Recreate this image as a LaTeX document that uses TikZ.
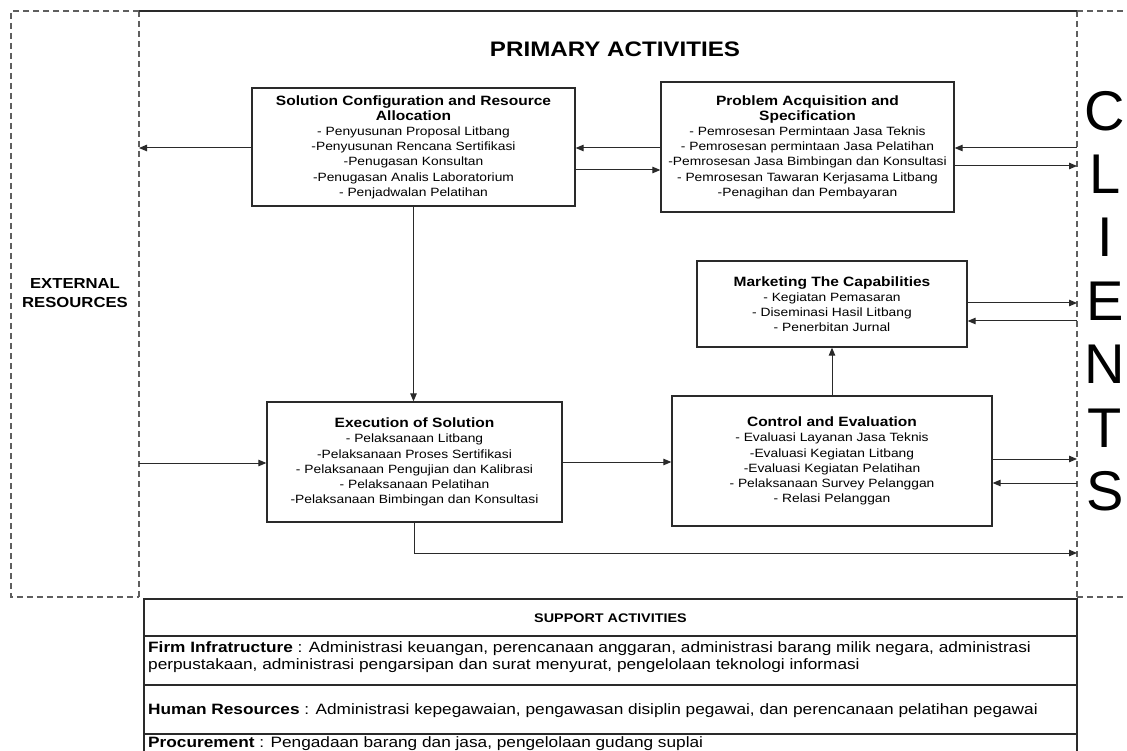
\documentclass[tikz,border=0pt]{standalone}
\usepackage{fontspec}
\setmainfont{Liberation Sans}[FakeStretch=1.15]
\newfontfamily\clfont{Liberation Sans}
\usetikzlibrary{arrows.meta}
\definecolor{ln}{HTML}{2A2A2A}
\definecolor{dshc}{HTML}{5E5E5E}
\newcommand\boxttl[1]{{\fontsize{13.5}{15}\selectfont\bfseries #1}}
\begin{document}
\begin{tikzpicture}[x=1pt,y=-1pt,
  box/.style={draw=ln,line width=1.3pt,rectangle,align=center,inner sep=0pt,font=\fontsize{12}{15.2}\selectfont},
  arr/.style={draw=ln,line width=1pt,-{Triangle[length=8pt,width=6.5pt]}},
  dshl/.style={draw=dshc,line width=1.2pt,dash pattern=on 6pt off 4pt},
  frame/.style={draw=ln,line width=1.1pt},
  clet/.style={font=\clfont\fontsize{56}{60}\selectfont,inner sep=0pt,anchor=base},
  sup/.style={anchor=base west,align=left,inner sep=0pt,font=\fontsize{15}{17}\selectfont}]
\useasboundingbox (0,0) rectangle (1127,751);
% frames
\draw[dshl] (139,11) -- (11,11) -- (11,597) -- (139,597);
\draw[dshl] (139,11) -- (139,597);
\draw[dshl] (1077,11) -- (1077,597);
\draw[dshl] (1077,11) -- (1127,11);
\draw[dshl] (1077,597) -- (1127,597);
\draw[frame] (139,11) -- (1077,11);
% labels
\node[font=\fontsize{21}{24}\selectfont\bfseries] (prim) at (615,49) {PRIMARY ACTIVITIES};
\node[align=center,font=\fontsize{14.5}{19}\selectfont\bfseries,inner sep=0pt] (ext) at (75,293) {EXTERNAL\\RESOURCES};
\node[clet] (cl1) at (1105,131) {C};
\node[clet] (cl2) at (1105,194) {L};
\node[clet] (cl3) at (1105,257) {I};
\node[clet] (cl4) at (1105,320) {E};
\node[clet] (cl5) at (1105,383) {N};
\node[clet] (cl6) at (1105,447) {T};
\node[clet] (cl7) at (1105,510) {S};
% boxes
\node[box,minimum width=323pt,minimum height=118pt] (sol) at (413.5,147) {\boxttl{Solution Configuration and Resource}\\\boxttl{Allocation}\\- Penyusunan Proposal Litbang\\-Penyusunan Rencana Sertifikasi\\-Penugasan Konsultan\\-Penugasan Analis Laboratorium\\- Penjadwalan Pelatihan};
\node[box,minimum width=293pt,minimum height=130pt] (prob) at (807.5,147) {\boxttl{Problem Acquisition and}\\\boxttl{Specification}\\- Pemrosesan Permintaan Jasa Teknis\\- Pemrosesan permintaan Jasa Pelatihan\\-Pemrosesan Jasa Bimbingan dan Konsultasi\\- Pemrosesan Tawaran Kerjasama Litbang\\-Penagihan dan Pembayaran};
\node[box,minimum width=270pt,minimum height=86pt] (mkt) at (832,304) {\boxttl{Marketing The Capabilities}\\- Kegiatan Pemasaran\\- Diseminasi Hasil Litbang\\- Penerbitan Jurnal};
\node[box,minimum width=295pt,minimum height=120pt] (exec) at (414.5,462) {\boxttl{Execution of Solution}\\- Pelaksanaan Litbang\\-Pelaksanaan Proses Sertifikasi\\- Pelaksanaan Pengujian dan Kalibrasi\\- Pelaksanaan Pelatihan\\-Pelaksanaan Bimbingan dan Konsultasi};
\node[box,minimum width=320pt,minimum height=130pt] (ctrl) at (832,461) {\boxttl{Control and Evaluation}\\- Evaluasi Layanan Jasa Teknis\\-Evaluasi Kegiatan Litbang\\-Evaluasi Kegiatan Pelatihan\\- Pelaksanaan Survey Pelanggan\\- Relasi Pelanggan};
% boundary coordinates
\coordinate (e148) at (139,148);
\coordinate (e463) at (139,463);
\coordinate (c148) at (1077,148);
\coordinate (c166) at (1077,166);
\coordinate (c303) at (1077,303);
\coordinate (c321) at (1077,321);
\coordinate (c459) at (1077,459);
\coordinate (c483) at (1077,483);
\coordinate (c553) at (1077,553);
% connectors
\draw[arr] (sol.west |- e148) -- (e148);
\draw[arr] (prob.west |- e148) -- (sol.east |- e148);
\draw[arr] (sol.east |- 0,170) -- (prob.west |- 0,170);
\draw[arr] (c148) -- (prob.east |- c148);
\draw[arr] (prob.east |- c166) -- (c166);
\draw[arr] (mkt.east |- c303) -- (c303);
\draw[arr] (c321) -- (mkt.east |- c321);
\draw[arr] (sol.south) -- (sol.south |- exec.north);
\draw[arr] (e463) -- (exec.west |- e463);
\draw[arr] (exec.east) -- (ctrl.west |- exec.east);
\draw[arr] (ctrl.north) -- (mkt.south);
\draw[arr] (ctrl.east |- c459) -- (c459);
\draw[arr] (c483) -- (ctrl.east |- c483);
\draw[arr] (exec.south) |- (c553);
% support activities
\draw[frame] (144,751) -- (144,599) -- (1077,599) -- (1077,751);
\draw[frame] (144,636) -- (1077,636);
\draw[frame] (144,685) -- (1077,685);
\draw[frame] (144,734) -- (1077,734);
\node[font=\fontsize{12.5}{15}\selectfont\bfseries] (supt) at (610.5,618) {SUPPORT ACTIVITIES};
\node[sup] (firm) at (148,669) {\textbf{Firm Infratructure} : Administrasi keuangan, perencanaan anggaran, administrasi barang milik negara, administrasi\\perpustakaan, administrasi pengarsipan dan surat menyurat, pengelolaan teknologi informasi};
\node[sup] (hr) at (148,714) {\textbf{Human Resources} : Administrasi kepegawaian, pengawasan disiplin pegawai, dan perencanaan pelatihan pegawai};
\node[sup] (proc) at (148,747) {\textbf{Procurement} : Pengadaan barang dan jasa, pengelolaan gudang suplai};
\end{tikzpicture}
\end{document}
